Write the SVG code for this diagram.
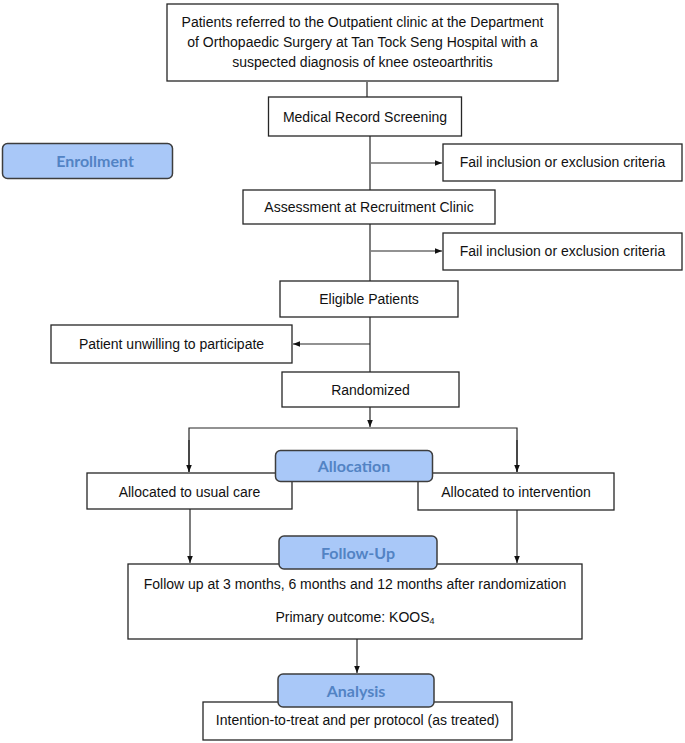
<svg xmlns="http://www.w3.org/2000/svg" width="685" height="743" viewBox="0 0 685 743">
<style>
.box{fill:#fff;stroke:#262626;stroke-width:1.3}
.lab{fill:#a9c8f8;stroke:#3d3d3d;stroke-width:1.5}
.t{font-family:"Liberation Sans",Arial,sans-serif;font-size:14px;fill:#111;text-anchor:middle}
.lt{font-family:Lato,"Open Sans","Liberation Sans",sans-serif;font-size:16px;font-weight:700;fill:#5283c4;text-anchor:middle}
.c{fill:none;stroke:#262626;stroke-width:1.2}
</style>
<defs>
<marker id="ah" viewBox="0 0 10 10" refX="10" refY="5" markerWidth="7" markerHeight="7" orient="auto" markerUnits="userSpaceOnUse">
<path d="M0,1 L10,5 L0,9 z" fill="#111"/>
</marker>
</defs>
<g id="connectors">
<line class="c" x1="367" y1="82" x2="367" y2="97"/>
<line class="c" x1="370" y1="136" x2="370" y2="190"/>
<line class="c" x1="371" y1="163" x2="442" y2="163" marker-end="url(#ah)"/>
<line class="c" x1="370" y1="224" x2="370" y2="281"/>
<line class="c" x1="371" y1="251" x2="442" y2="251" marker-end="url(#ah)"/>
<line class="c" x1="370" y1="317" x2="370" y2="372"/>
<line class="c" x1="370" y1="344" x2="293" y2="344" marker-end="url(#ah)"/>
<line class="c" x1="370" y1="407" x2="370" y2="427" marker-end="url(#ah)"/>
<polyline class="c" points="189,472 189,428 517,428 517,472"/>
<line class="c" x1="189" y1="440" x2="189" y2="472" marker-end="url(#ah)"/>
<line class="c" x1="517" y1="440" x2="517" y2="472" marker-end="url(#ah)"/>
<line class="c" x1="190" y1="509" x2="190" y2="563" marker-end="url(#ah)"/>
<line class="c" x1="517" y1="510" x2="517" y2="563" marker-end="url(#ah)"/>
<line class="c" x1="357" y1="639" x2="357" y2="673" marker-end="url(#ah)"/>
</g>
<g id="n-referred">
<rect class="box" x="167" y="4" width="391" height="77"/>
<text class="t" x="362.5" y="27">Patients referred to the Outpatient clinic at the Department</text>
<text class="t" x="362.5" y="47">of Orthopaedic Surgery at Tan Tock Seng Hospital with a</text>
<text class="t" x="362.5" y="67">suspected diagnosis of knee osteoarthritis</text>
</g>
<g id="n-screening">
<rect class="box" x="268.5" y="97" width="193" height="39"/>
<text class="t" x="365" y="122">Medical Record Screening</text>
</g>
<g id="n-enrollment">
<rect class="lab" x="2.5" y="143.5" width="170" height="35" rx="5"/>
<text class="lt" x="95" y="167">Enrollment</text>
</g>
<g id="n-fail1">
<rect class="box" x="443" y="144" width="239" height="37"/>
<text class="t" x="562.5" y="167">Fail inclusion or exclusion criteria</text>
</g>
<g id="n-assessment">
<rect class="box" x="243" y="190" width="252" height="34"/>
<text class="t" x="369" y="212">Assessment at Recruitment Clinic</text>
</g>
<g id="n-fail2">
<rect class="box" x="443" y="233" width="239" height="37"/>
<text class="t" x="562.5" y="256">Fail inclusion or exclusion criteria</text>
</g>
<g id="n-eligible">
<rect class="box" x="280" y="281" width="178" height="36"/>
<text class="t" x="369" y="304">Eligible Patients</text>
</g>
<g id="n-unwilling">
<rect class="box" x="51" y="325" width="241" height="38"/>
<text class="t" x="171.5" y="349">Patient unwilling to participate</text>
</g>
<g id="n-randomized">
<rect class="box" x="282" y="372" width="177" height="35"/>
<text class="t" x="370.5" y="395">Randomized</text>
</g>
<g id="n-usual">
<rect class="box" x="87" y="473" width="205" height="36"/>
<text class="t" x="189.5" y="497">Allocated to usual care</text>
</g>
<g id="n-intervention">
<rect class="box" x="418" y="473" width="196" height="37"/>
<text class="t" x="516" y="497">Allocated to intervention</text>
</g>
<g id="n-allocation">
<rect class="lab" x="275.5" y="450.5" width="157" height="31" rx="5"/>
<text class="lt" x="354" y="472">Allocation</text>
</g>
<g id="n-followbox">
<rect class="box" x="128" y="564" width="454" height="75"/>
<text class="t" x="355" y="589">Follow up at 3 months, 6 months and 12 months after randomization</text>
<text class="t" x="355" y="622">Primary outcome: KOOS<tspan font-size="9" dy="2">4</tspan></text>
</g>
<g id="n-followup">
<rect class="lab" x="279" y="536" width="158" height="33" rx="5"/>
<text class="lt" x="358" y="559">Follow-Up</text>
</g>
<g id="n-itt">
<rect class="box" x="203" y="702" width="309" height="38"/>
<text class="t" x="357.5" y="725">Intention-to-treat and per protocol (as treated)</text>
</g>
<g id="n-analysis">
<rect class="lab" x="278" y="674" width="156" height="33" rx="5"/>
<text class="lt" x="356" y="697">Analysis</text>
</g>
</svg>
